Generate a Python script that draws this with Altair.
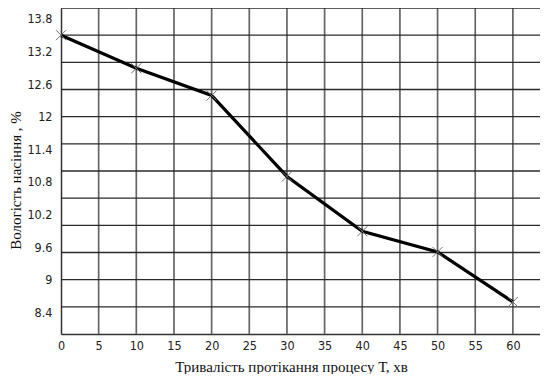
import altair as alt
import pandas as pd

# Data
t_min = [0, 10, 20, 30, 40, 50, 60]
moisture = [13.5, 12.89, 12.39, 10.9, 9.89, 9.51, 8.59]

x_ticks = [0, 5, 10, 15, 20, 25, 30, 35, 40, 45, 50, 55, 60, 65]
y_labels = [8.4, 9.0, 9.6, 10.2, 10.8, 11.4, 12.0, 12.6, 13.2, 13.8]
y_grid = [8.5, 9.0, 9.5, 10.0, 10.5, 11.0, 11.5, 12.0, 12.5, 13.0, 13.5, 14.0]
x_grid = [5, 10, 15, 20, 25, 30, 35, 40, 45, 50, 55, 60]

df = pd.DataFrame({"t": t_min, "w": moisture})
hgrid = pd.DataFrame({"g": y_grid})
vgrid = pd.DataFrame({"g": x_grid})

# the reference's plot runs off the right edge of the picture (65 is cut)
xs = alt.Scale(domain=[0, 63.6], nice=False, zero=False)
ys = alt.Scale(domain=[8, 14], nice=False, zero=False)

label_font = "Liberation Sans Narrow, DejaVu Sans Condensed, Arial Narrow, sans-serif"
title_font = "Liberation Serif, Times New Roman, serif"

x_axis = alt.Axis(
    values=x_ticks[:-1],
    grid=False,
    ticks=False,
    domain=True,
    domainColor="#333333",
    domainWidth=1.5,
    labelFont=label_font,
    labelFontSize=12.5,
    labelColor="#222222",
    labelPadding=5,
    labelOverlap=False,
    labelFlush=False,
    title="Тривалість протікання процесу Т, хв",
    titleFont=title_font,
    titleFontSize=15,
    titleFontWeight="normal",
    titleColor="#111111",
    titleX=230,
    titleY=32,
    titleAlign="center",
    titleBaseline="middle",
)
y_axis = alt.Axis(
    values=y_labels,
    format=".1~f",
    grid=False,
    ticks=False,
    domain=True,
    domainColor="#333333",
    domainWidth=1.5,
    labelFont=label_font,
    labelFontSize=12.5,
    labelColor="#222222",
    labelPadding=9,
    labelOverlap=False,
    labelFlush=False,
    title="Вологість насіння , %",
    titleFont=title_font,
    titleFontSize=15,
    titleFontWeight="normal",
    titleColor="#111111",
    titleAngle=-90,
    titleX=-46,
    titleY=172,
    titleAlign="center",
    titleBaseline="middle",
)

vlines = alt.Chart(vgrid).mark_rule(color="#666666", strokeWidth=1.7).encode(
    x=alt.X("g:Q", scale=xs, axis=x_axis)
)
hlines = alt.Chart(hgrid).mark_rule(color="#2a2a2a", strokeWidth=1.3).encode(
    y=alt.Y("g:Q", scale=ys, axis=y_axis)
)

line = alt.Chart(df).mark_line(color="black", strokeWidth=3.2).encode(
    x=alt.X("t:Q", scale=xs, axis=x_axis),
    y=alt.Y("w:Q", scale=ys, axis=y_axis),
)

points = alt.Chart(df).mark_point(
    shape="M-1,-1L1,1M1,-1L-1,1",
    size=100,
    filled=False,
    stroke="#707070",
    strokeWidth=1,
    opacity=1,
).encode(
    x=alt.X("t:Q", scale=xs, axis=x_axis),
    y=alt.Y("w:Q", scale=ys, axis=y_axis),
)

chart = (
    alt.layer(vlines, hlines, line, points)
    .properties(
        width=479,
        height=326,
        autosize=alt.AutoSizeParams(type="none"),
        padding={"left": 53, "top": 0, "right": 0, "bottom": 40},
        background="white",
    )
    .configure_view(stroke=None)
)

chart.save("out.html", embed_options={"renderer": "svg", "actions": False})
